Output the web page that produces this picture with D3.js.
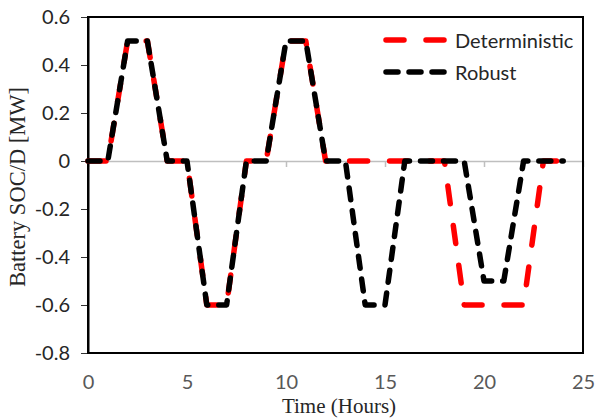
<!DOCTYPE html>
<html>
<head>
  <meta charset="utf-8">
  <title>Battery SOC/D</title>
  <script src="https://cdn.jsdelivr.net/npm/d3@7/dist/d3.min.js"></script>
  <style>
    body { margin: 0; background: #fff; }
    .tick text { font-family: Lato, "Liberation Sans", sans-serif; }
  </style>
</head>
<body>
  <script>
    // chart data
    const hours = d3.range(0, 25);
    const deterministic = [0, 0, 0.5, 0.5, 0, 0, -0.6, -0.6, 0, 0, 0.5, 0.5, 0, 0, 0, 0, 0, 0, 0, -0.6, -0.6, -0.6, -0.6, 0, 0];
    const robust = [0, 0, 0.5, 0.5, 0, 0, -0.6, -0.6, 0, 0, 0.5, 0.5, 0, 0, -0.6, -0.6, 0, 0, 0, 0, -0.5, -0.5, 0, 0, 0];
    const seriesNames = ["Deterministic", "Robust"];
    const xTicks = [0, 5, 10, 15, 20, 25];
    const yTicks = [-0.8, -0.6, -0.4, -0.2, 0, 0.2, 0.4, 0.6];
    const yTickLabels = ["-0.8", "-0.6", "-0.4", "-0.2", "0", "0.2", "0.4", "0.6"];

    const W = 596, H = 419;
    const plotL = 88, plotR = 583, plotT = 17, plotB = 353;

    const x = d3.scaleLinear().domain([0, 25]).range([plotL, plotR]);
    const y = d3.scaleLinear().domain([-0.8, 0.6]).range([plotB, plotT]);

    const svg = d3.select("body").append("svg")
      .attr("width", W)
      .attr("height", H);

    svg.append("rect").attr("width", W).attr("height", H).attr("fill", "#fff");

    // zero line with small gray ticks
    svg.append("g")
      .attr("transform", "translate(0," + y(0) + ")")
      .call(d3.axisBottom(x).tickValues(xTicks).tickSize(6).tickFormat("").tickSizeOuter(0))
      .call(g => g.select(".domain").attr("stroke", "#bfbfbf").attr("stroke-width", 1.5))
      .call(g => g.selectAll(".tick line").attr("stroke", "#bfbfbf").attr("stroke-width", 1.5));

    // x labels at the bottom
    svg.append("g")
      .attr("transform", "translate(0," + plotB + ")")
      .call(d3.axisBottom(x).tickValues(xTicks).tickSize(0).tickPadding(22))
      .call(g => g.select(".domain").remove())
      .call(g => g.selectAll(".tick text").attr("font-size", 20).attr("fill", "#595959"));

    // y axis
    svg.append("g")
      .attr("transform", "translate(" + plotL + ",0)")
      .call(d3.axisLeft(y).tickValues(yTicks).tickSize(7).tickPadding(11)
        .tickFormat((d, i) => yTickLabels[i]).tickSizeOuter(0))
      .call(g => g.select(".domain").attr("stroke", "#000").attr("stroke-width", 2))
      .call(g => g.selectAll(".tick line").attr("stroke", "#333"))
      .call(g => g.selectAll(".tick text").attr("font-size", 20).attr("fill", "#262626"));

    // plot frame
    svg.append("rect")
      .attr("x", plotL).attr("y", plotT)
      .attr("width", plotR - plotL).attr("height", plotB - plotT)
      .attr("fill", "none").attr("stroke", "#000").attr("stroke-width", 2);

    const line = d3.line().x((d, i) => x(hours[i])).y(d => y(d));

    const styles = [
      { color: "#ff0000", dash: "18,22", data: deterministic },
      { color: "#000000", dash: "12,11", data: robust }
    ];

    styles.forEach(s => {
      svg.append("path")
        .datum(s.data)
        .attr("d", line)
        .attr("fill", "none")
        .attr("stroke", s.color)
        .attr("stroke-width", 5.5)
        .attr("stroke-linecap", "round")
        .attr("stroke-linejoin", "round")
        .attr("stroke-dasharray", s.dash);
    });

    // legend
    const legend = svg.append("g");
    styles.forEach((s, i) => {
      const ly = 40 + i * 32;
      legend.append("line")
        .attr("x1", 386).attr("x2", 444)
        .attr("y1", ly).attr("y2", ly)
        .attr("stroke", s.color)
        .attr("stroke-width", 5.5)
        .attr("stroke-linecap", "round")
        .attr("stroke-dasharray", s.dash);
      legend.append("text")
        .attr("x", 455).attr("y", ly + 8)
        .attr("font-family", "Lato, 'Liberation Sans', sans-serif")
        .attr("font-size", 20)
        .attr("fill", "#262626")
        .text(seriesNames[i]);
    });

    // axis titles
    svg.append("text")
      .attr("x", 339).attr("y", 413)
      .attr("text-anchor", "middle")
      .attr("font-family", "'Liberation Serif', serif")
      .attr("font-size", 21)
      .attr("fill", "#262626")
      .text("Time (Hours)");

    svg.append("text")
      .attr("transform", "translate(25,187) rotate(-90)")
      .attr("text-anchor", "middle")
      .attr("font-family", "'Liberation Serif', serif")
      .attr("font-size", 22.5)
      .attr("fill", "#262626")
      .text("Battery SOC/D [MW]");
  </script>
</body>
</html>
